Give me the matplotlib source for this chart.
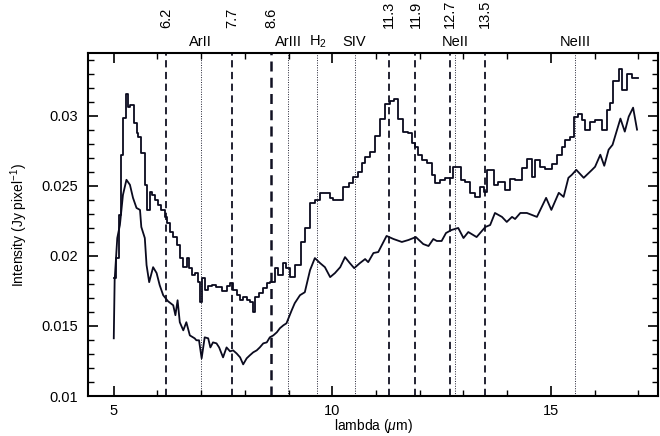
#!/usr/bin/env python3
"""
Mid-IR spectrum plot: intensity vs wavelength with PAH and fine-structure line markers.
"""

import numpy as np
import matplotlib
matplotlib.use('Agg')
import matplotlib.pyplot as plt
from matplotlib.ticker import MultipleLocator, FuncFormatter
from matplotlib.transforms import blended_transform_factory

# Upper spectrum, drawn as a histogram (left bin edges + values)
upper_lam = [5.00, 5.05, 5.11, 5.17, 5.22, 5.29, 5.33, 5.38, 5.47, 5.52,
             5.56, 5.63, 5.71, 5.76, 5.82, 5.88, 5.94, 6.01, 6.09, 6.17,
             6.22, 6.28, 6.36, 6.44, 6.52, 6.59, 6.67, 6.72, 6.80, 6.85,
             6.93, 6.97, 7.01, 7.08, 7.16, 7.24, 7.35, 7.47, 7.58, 7.66,
             7.73, 7.81, 7.88, 7.96, 8.04, 8.11, 8.19, 8.24, 8.32, 8.42,
             8.50, 8.57, 8.69, 8.76, 8.88, 8.93, 9.03, 9.14, 9.28, 9.38,
             9.48, 9.60, 9.71, 9.83, 9.94, 10.02, 10.25, 10.37, 10.48, 10.59,
             10.67, 10.75, 10.86, 10.98, 11.09, 11.21, 11.32, 11.40, 11.51, 11.62,
             11.74, 11.83, 11.89, 11.97, 12.05, 12.16, 12.27, 12.35, 12.47, 12.58,
             12.77, 12.95, 13.04, 13.15, 13.27, 13.38, 13.46, 13.53, 13.69, 13.80,
             13.95, 14.07, 14.18, 14.34, 14.45, 14.57, 14.64, 14.76, 14.87, 15.02,
             15.14, 15.25, 15.33, 15.44, 15.52, 15.63, 15.71, 15.79, 15.90, 16.01,
             16.17, 16.28, 16.36, 16.43, 16.55, 16.63, 16.74, 16.85, 16.99]
upper_flux = [0.01842, 0.01985, 0.02293, 0.02723, 0.02988, 0.03153, 0.03067, 0.03081, 0.02952, 0.02880,
              0.02852, 0.02737, 0.02508, 0.02329, 0.02458, 0.02436, 0.02400, 0.02365, 0.02329, 0.02279,
              0.02236, 0.02171, 0.02135, 0.02078, 0.01985, 0.01920, 0.01985, 0.01913, 0.01863, 0.01878,
              0.01813, 0.01670, 0.01842, 0.01756, 0.01784, 0.01792, 0.01777, 0.01749, 0.01784, 0.01806,
              0.01756, 0.01720, 0.01684, 0.01706, 0.01684, 0.01670, 0.01598, 0.01706, 0.01734, 0.01770,
              0.01806, 0.01813, 0.01913, 0.01863, 0.01949, 0.01913, 0.01849, 0.01935, 0.02100, 0.02200,
              0.02379, 0.02400, 0.02451, 0.02451, 0.02415, 0.02400, 0.02494, 0.02522, 0.02565, 0.02601,
              0.02665, 0.02708, 0.02744, 0.02859, 0.02981, 0.03088, 0.03110, 0.03124, 0.02981, 0.02888,
              0.02880, 0.02809, 0.02780, 0.02723, 0.02687, 0.02665, 0.02580, 0.02522, 0.02544, 0.02558,
              0.02637, 0.02544, 0.02529, 0.02451, 0.02422, 0.02494, 0.02458, 0.02615, 0.02508, 0.02529,
              0.02472, 0.02551, 0.02544, 0.02630, 0.02694, 0.02565, 0.02687, 0.02637, 0.02622, 0.02658,
              0.02723, 0.02780, 0.02830, 0.02852, 0.02995, 0.03016, 0.02974, 0.02902, 0.02959, 0.02974,
              0.02902, 0.03045, 0.03095, 0.03246, 0.03332, 0.03188, 0.03296, 0.03274, 0.03274]

# Lower spectrum, drawn as a plain line
lower_lam = [5.00, 5.02, 5.08, 5.14, 5.21, 5.29, 5.37, 5.44, 5.52, 5.60,
             5.63, 5.71, 5.75, 5.81, 5.90, 5.98, 6.05, 6.13, 6.24, 6.36,
             6.41, 6.46, 6.51, 6.59, 6.66, 6.74, 6.85, 6.89, 6.95, 7.01,
             7.08, 7.16, 7.21, 7.27, 7.35, 7.41, 7.50, 7.58, 7.66, 7.73,
             7.81, 7.89, 7.96, 8.04, 8.11, 8.19, 8.27, 8.34, 8.42, 8.50,
             8.57, 8.65, 8.73, 8.80, 8.88, 8.95, 9.07, 9.14, 9.26, 9.37,
             9.49, 9.60, 9.72, 9.83, 9.95, 10.06, 10.18, 10.29, 10.40, 10.50,
             10.63, 10.75, 10.82, 10.94, 11.05, 11.24, 11.40, 11.59, 11.74, 11.91,
             12.08, 12.20, 12.31, 12.39, 12.50, 12.60, 12.73, 12.88, 13.00, 13.11,
             13.30, 13.50, 13.61, 13.72, 13.88, 13.99, 14.11, 14.18, 14.30, 14.45,
             14.68, 14.89, 15.01, 15.18, 15.29, 15.40, 15.48, 15.58, 15.75, 15.94,
             16.01, 16.13, 16.22, 16.32, 16.41, 16.59, 16.69, 16.78, 16.88, 16.97]
lower_flux = [0.01412, 0.01827, 0.02128, 0.02221, 0.02436, 0.02544, 0.02508, 0.02415, 0.02343, 0.02329,
              0.02207, 0.02128, 0.01935, 0.01813, 0.01920, 0.01878, 0.01792, 0.01720, 0.01677, 0.01648,
              0.01577, 0.01684, 0.01527, 0.01469, 0.01527, 0.01433, 0.01412, 0.01398, 0.01398, 0.01269,
              0.01419, 0.01412, 0.01347, 0.01383, 0.01376, 0.01347, 0.01276, 0.01347, 0.01319, 0.01326,
              0.01304, 0.01276, 0.01226, 0.01269, 0.01290, 0.01312, 0.01326, 0.01347, 0.01376, 0.01383,
              0.01419, 0.01433, 0.01455, 0.01484, 0.01505, 0.01519, 0.01612, 0.01663, 0.01720, 0.01741,
              0.01899, 0.01985, 0.01949, 0.01920, 0.01849, 0.01878, 0.01920, 0.01992, 0.01949, 0.01913,
              0.01949, 0.01978, 0.01956, 0.02021, 0.02028, 0.02143, 0.02121, 0.02100, 0.02114, 0.02135,
              0.02085, 0.02071, 0.02121, 0.02107, 0.02107, 0.02164, 0.02186, 0.02200, 0.02128, 0.02171,
              0.02135, 0.02207, 0.02221, 0.02307, 0.02279, 0.02243, 0.02279, 0.02264, 0.02307, 0.02307,
              0.02279, 0.02415, 0.02329, 0.02451, 0.02422, 0.02558, 0.02580, 0.02615, 0.02558, 0.02615,
              0.02637, 0.02723, 0.02644, 0.02759, 0.02794, 0.02981, 0.02888, 0.02995, 0.03059, 0.02902]

# PAH features (dashed) and ionic / molecular lines (dotted)
pah_lam = [6.2, 7.7, 8.6, 11.3, 11.9, 12.7, 13.5]
pah_labels = ['6.2', '7.7', '8.6', '11.3', '11.9', '12.7', '13.5']
ion_lam = [6.99, 8.99, 9.66, 10.51, 12.81, 15.56]
ion_labels = ['ArII', 'ArIII', 'H$_2$', 'SIV', 'NeII', 'NeIII']


def main():
    plt.rcParams['font.family'] = ['Liberation Sans', 'DejaVu Sans']
    plt.rcParams['mathtext.fontset'] = 'custom'
    plt.rcParams['mathtext.rm'] = 'Liberation Sans'
    plt.rcParams['mathtext.it'] = 'Liberation Sans:italic'

    fig = plt.figure(figsize=(6.6, 4.36), dpi=100)
    ax = fig.add_axes([0.1333, 0.0917, 0.8637, 0.786])

    # Line markers
    for lam in pah_lam:
        lw = 1.8 if lam == 8.6 else 1.3
        ax.axvline(lam, color='#111122', linestyle=(0, (4, 2.5)), linewidth=lw, zorder=1)
    for lam in ion_lam:
        ax.axvline(lam, color='#222233', linestyle=(0, (1, 1.5)), linewidth=0.7, zorder=1)

    # Spectra
    ax.step(upper_lam, upper_flux, where='post', color='#0a0a1e', linewidth=1.3, zorder=3)
    ax.plot(lower_lam, lower_flux, color='#0a0a1e', linewidth=1.3, zorder=3)

    ax.set_xlim(4.41, 17.45)
    ax.set_ylim(0.01, 0.03447)

    # Axes styling (ticks inside, on all four sides)
    ax.xaxis.set_major_locator(MultipleLocator(5))
    ax.xaxis.set_minor_locator(MultipleLocator(1))
    ax.yaxis.set_major_locator(MultipleLocator(0.005))
    ax.yaxis.set_minor_locator(MultipleLocator(0.001))
    ax.yaxis.set_major_formatter(FuncFormatter(lambda v, p: f'{v:g}'))
    ax.tick_params(which='both', direction='in', top=True, right=True, labelsize=10.5)
    ax.tick_params(axis='y', pad=7)
    ax.tick_params(axis='x', pad=6)
    ax.tick_params(which='major', length=7, width=1.2)
    ax.tick_params(which='minor', length=4, width=1.0)
    for spine in ax.spines.values():
        spine.set_linewidth(1.5)

    ax.set_xlabel(r'lambda ($\mu$m)', fontsize=10, labelpad=-1)
    ax.set_ylabel(r'Intensity (Jy pixel$^{-1}$)', fontsize=10, labelpad=8)

    # Labels above the frame
    trans = blended_transform_factory(ax.transData, ax.transAxes)
    for lam, lab in zip(pah_lam, pah_labels):
        ax.text(lam, 1.074, lab, transform=trans, rotation=90, ha='center', va='bottom',
                fontsize=10.5)
    for lam, lab in zip(ion_lam, ion_labels):
        ax.text(lam, 1.033, lab, transform=trans, ha='center', va='center', fontsize=10.5)

    fig.savefig('out.png', dpi=100)
    plt.close(fig)


if __name__ == '__main__':
    main()
